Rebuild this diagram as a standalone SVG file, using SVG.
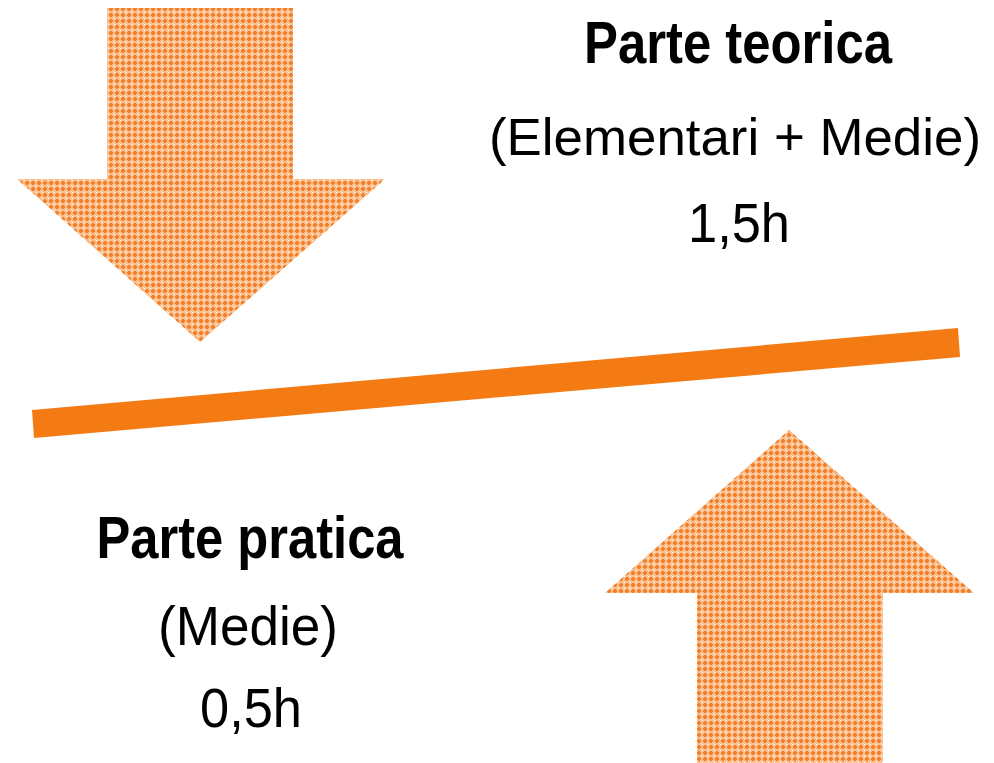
<svg xmlns="http://www.w3.org/2000/svg" width="994" height="763" viewBox="0 0 994 763">
<defs>
<pattern id="dots" width="6" height="6" patternUnits="userSpaceOnUse">
<rect width="6" height="6" fill="#F9BE8C"/>
<rect x="2" y="1" width="2" height="4" fill="#F47F26"/>
<rect x="1" y="2" width="4" height="2" fill="#F47F26"/>
<rect x="0" y="0" width="1" height="1" fill="#FFFFFF"/>
<rect x="5" y="5" width="1" height="1" fill="#FDE3CC"/>
</pattern>
<style>
.arrow{fill:url(#dots);}
.bar{fill:#F47A14;}
.t{font-family:"Liberation Sans",Arial,sans-serif;fill:#000;text-anchor:middle;}
.b{font-weight:bold;font-size:60px;}
.r{font-size:55px;}
.s{font-size:52px;}
</style>
</defs>
<g id="down-arrow">
<polygon class="arrow" points="107,8 293,8 293,179 385,179 200,342 17,179 107,179"/>
</g>
<g id="up-arrow">
<polygon class="arrow" points="789,430 974,593 883,593 883,763 697,763 697,593 605,593"/>
</g>
<g id="connectors">
<polygon class="bar" points="32,410 958,328 960,357 34,438"/>
</g>
<g id="teorica">
<text class="t b" x="738" y="63" textLength="308" lengthAdjust="spacingAndGlyphs">Parte teorica</text>
<text class="t s" x="735" y="155" textLength="492" lengthAdjust="spacingAndGlyphs">(Elementari + Medie)</text>
<text class="t r" x="739" y="242" textLength="102" lengthAdjust="spacingAndGlyphs">1,5h</text>
</g>
<g id="pratica">
<text class="t b" x="250" y="558" textLength="307" lengthAdjust="spacingAndGlyphs">Parte pratica</text>
<text class="t r" x="248" y="645" textLength="180" lengthAdjust="spacingAndGlyphs">(Medie)</text>
<text class="t r" x="251" y="727" textLength="102" lengthAdjust="spacingAndGlyphs">0,5h</text>
</g>
</svg>
